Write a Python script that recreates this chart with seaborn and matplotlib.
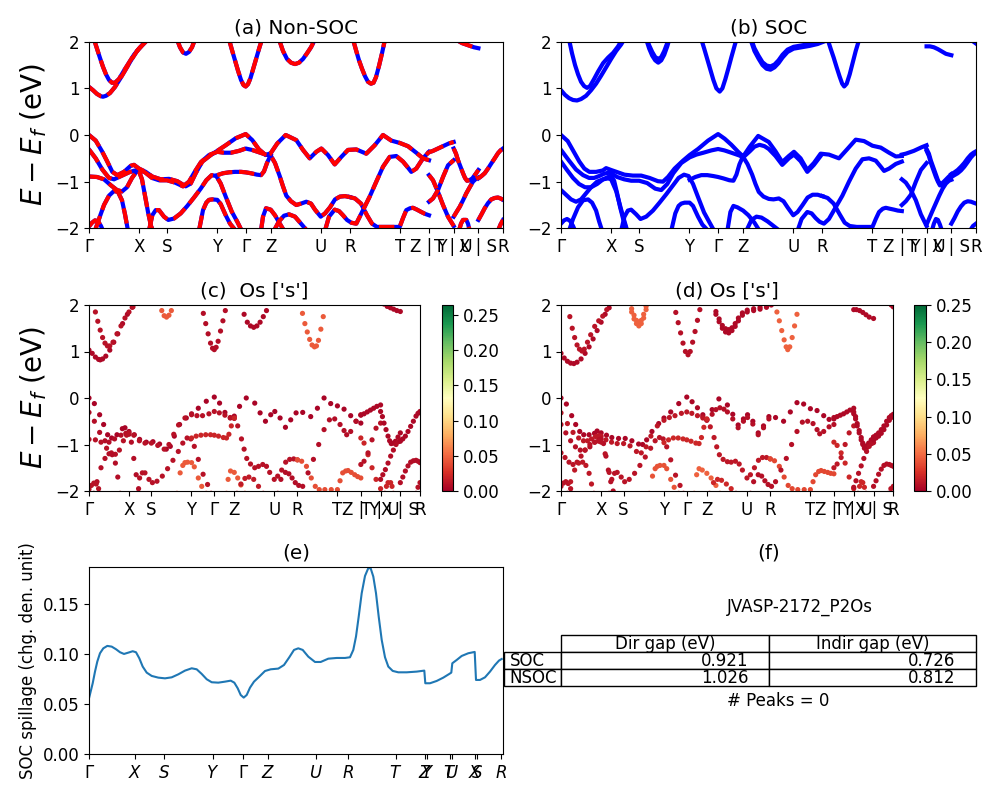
import matplotlib
matplotlib.use("Agg")
import matplotlib.pyplot as plt
import numpy as np
import pandas as pd
import seaborn as sns
from matplotlib.cm import ScalarMappable
from matplotlib.colors import Normalize
from matplotlib.table import Table

plt.rcParams["font.size"] = 12
plt.rcParams["font.family"] = ["DejaVu Sans"]

# ---------------- k-path ----------------
KPATH_TICKS = [0, 50, 78, 128, 156.7, 181.7, 231.7, 260.7, 310.7, 340, 364.7, 389.4, 414]
KPATH_LABELS = ["Γ", "X", "S", "Y", "Γ", "Z", "U", "R", "T", "Z | Y", "T | U", "X | S", "R"]

# ---------------- Non-SOC bands (k, E) ----------------
NC1_K = [0, 4, 8, 12, 14, 17, 21, 26, 31, 36, 42, 48, 54, 58]
NC1_E = [1.03, 0.96, 0.88, 0.83, 0.82, 0.84, 0.9, 1.03, 1.2, 1.38, 1.6, 1.8, 1.95, 2.05]
NC2_K = [5, 8, 11, 14, 17, 20, 23, 26, 30, 35, 40, 45, 50, 55, 59]
NC2_E = [2.05, 1.85, 1.65, 1.46, 1.3, 1.18, 1.12, 1.12, 1.2, 1.38, 1.55, 1.72, 1.85, 1.96, 2.05]
NC3_K = [88, 91, 94, 97, 100, 103, 106]
NC3_E = [2.05, 1.88, 1.77, 1.74, 1.78, 1.88, 2.05]
NC4_K = [140, 143, 146, 149, 152, 154.5, 156.7, 159, 161.5, 164.5, 167.5, 170.5, 173]
NC4_E = [2.05, 1.82, 1.6, 1.38, 1.18, 1.07, 1.04, 1.09, 1.22, 1.44, 1.66, 1.88, 2.05]
NC5_K = [190, 194, 198, 202, 206, 210, 214, 218, 222, 226]
NC5_E = [2.05, 1.8, 1.63, 1.55, 1.52, 1.55, 1.63, 1.75, 1.88, 2.05]
NC6_K = [264, 267, 270, 273, 276, 279, 282, 284.5, 287, 290, 293, 296]
NC6_E = [2.05, 1.82, 1.6, 1.42, 1.26, 1.14, 1.1, 1.12, 1.24, 1.48, 1.75, 2.05]
NC7_K = [369, 373, 377, 381, 385, 389.4]
NC7_E = [2.02, 1.97, 1.94, 1.91, 1.88, 1.86]

NV1_K = [0, 6.7, 13.3, 18.3, 23.3, 28.3, 35, 41.7, 45, 50, 56.7, 63.3, 71.7, 80, 88.3, 96.7,
         101.7, 106.7, 113.3, 121.7, 128.3, 136.7, 146.7, 156.7, 163.3, 170, 176.7, 181.7,
         188.3, 196.7, 207.3, 214, 220.7, 227.3, 232.4, 239, 245.7, 252.3, 259, 267.3, 277.3,
         285.7, 294, 302.3, 310.7, 319, 327.3, 334, 340]
NV1_E = [0.0, -0.12, -0.36, -0.57, -0.79, -0.86, -0.79, -0.66, -0.64, -0.72, -0.79, -0.89, -0.95,
         -0.94, -0.99, -1.1, -1.04, -0.82, -0.57, -0.43, -0.34, -0.22, -0.07, 0.02, -0.11, -0.31,
         -0.43, -0.39, -0.18, 0.0, -0.11, -0.32, -0.5, -0.36, -0.29, -0.43, -0.63, -0.47, -0.32,
         -0.31, -0.4, -0.22, 0.0, -0.12, -0.17, -0.24, -0.38, -0.5, -0.54]
NV2_K = [0, 6.7, 13.3, 20, 25, 32, 40, 46, 50, 53, 56, 59, 62, 65]
NV2_E = [-0.31, -0.5, -0.74, -0.92, -0.95, -0.88, -0.8, -0.76, -0.78, -0.95, -1.3, -1.65, -1.95, -2.1]
NV3A_K = [0, 8, 15, 22, 28, 33, 38, 43, 47, 50, 56, 63, 70, 78, 86, 94, 100, 106, 112, 120,
          128.3, 135, 142, 150, 156.7, 163, 170, 176.7, 181.7, 186, 190.7, 194, 197.3, 202,
          207.3, 212, 217.3, 222, 226, 231.7, 236, 241, 246, 251, 256, 260.7]
NV3A_E = [-0.89, -0.9, -0.95, -1.08, -1.18, -1.21, -1.12, -0.92, -0.8, -0.75, -0.8, -0.92, -0.97,
          -0.97, -1.02, -1.1, -1.0, -0.78, -0.58, -0.43, -0.36, -0.38, -0.38, -0.34, -0.29, -0.32,
          -0.37, -0.42, -0.44, -0.6, -0.88, -1.1, -1.3, -1.42, -1.5, -1.47, -1.43, -1.47, -1.6,
          -1.75, -1.68, -1.55, -1.38, -1.32, -1.31, -1.33]
NV3B_K = [260.7, 266, 272, 278, 283, 288, 295, 303, 310.7, 314, 317.3, 321, 324, 328, 332.3, 336, 340]
NV3B_E = [-1.33, -1.36, -1.47, -1.72, -1.9, -1.97, -1.97, -1.97, -1.97, -1.78, -1.61, -1.57,
          -1.56, -1.6, -1.65, -1.69, -1.72]
NV4_K = [6, 10, 15, 20, 25, 29, 33, 36, 39]
NV4_E = [-2.05, -1.8, -1.5, -1.3, -1.2, -1.22, -1.4, -1.7, -2.05]
NV5_K = [0, 3, 6, 9, 12, 14]
NV5_E = [-1.96, -1.88, -1.83, -1.85, -1.95, -2.05]
NV6_K = [60, 63.3, 66.7, 70, 75, 79.3, 85, 91.7, 98.3, 105, 111.7, 117.3, 122.7, 127.3, 131.7,
         136.7, 142.7, 148.3, 152.7]
NV6_E = [-2.05, -1.72, -1.61, -1.61, -1.75, -1.82, -1.79, -1.68, -1.52, -1.34, -1.15, -0.97,
         -0.86, -0.88, -1.04, -1.32, -1.64, -1.86, -2.05]
NV7_K = [110, 114, 117.3, 120, 123.3, 128.3, 131.7, 136.7, 141, 146.7]
NV7_E = [-2.05, -1.61, -1.45, -1.39, -1.38, -1.39, -1.48, -1.72, -1.9, -2.05]
NV8_K = [128.3, 134, 140, 146, 152, 156.7, 162, 168, 172, 175, 178, 181.7]
NV8_E = [-0.86, -0.82, -0.8, -0.79, -0.79, -0.8, -0.82, -0.85, -0.86, -0.78, -0.6, -0.43]
NV9_K = [172, 174, 177, 181.7, 186, 190, 195]
NV9_E = [-2.05, -1.75, -1.57, -1.6, -1.72, -1.87, -2.05]
NV10_K = [185, 190, 195, 200, 206, 212, 218]
NV10_E = [-2.05, -1.85, -1.73, -1.7, -1.75, -1.9, -2.05]
NV11_K = [236, 240, 245.7, 250, 254, 258, 262.3, 267.3, 274, 280.7, 287.3, 294, 300.7, 307.3,
          314, 319, 322.3, 327.3, 334, 340]
NV11_E = [-2.05, -1.75, -1.6, -1.63, -1.72, -1.82, -1.88, -1.9, -1.61, -1.32, -1.0, -0.68, -0.47,
          -0.45, -0.57, -0.7, -0.79, -0.72, -0.5, -0.36]

P2_K = [340, 344, 348, 352, 356, 360, 364.7]
P2S_K = [340, 344, 349, 354, 359, 364.7]
P3_K = [364.7, 367, 369, 371.5, 374, 376, 378, 380.5, 383.3, 386.5, 389.4]
P3B_K = [364.7, 367.5, 370.7, 374, 377.3, 380.7, 384, 387, 389.4]
P4_K = [389.4, 392.5, 395.7, 399, 402.3, 405.7, 409, 411.5, 414]

NP2A_E = [-0.37, -0.34, -0.3, -0.26, -0.22, -0.18, -0.15]
NP2B_E = [-0.86, -0.97, -1.22, -1.5, -1.75, -1.95]
NP2C_E = [-1.43, -1.36, -1.18, -0.9, -0.65, -0.54]
NP3A_E = [-0.29, -0.4, -0.54, -0.68, -0.82, -0.92, -0.98, -0.97, -0.93, -0.84, -0.75]
NP3B_E = [-1.75, -1.65, -1.54, -1.4, -1.25, -1.12, -1.0, -0.94, -0.91]
NP3C_K = [370, 372, 374, 377.3, 379, 380.7]
NP3C_E = [-2.05, -1.9, -1.82, -1.82, -1.9, -2.05]
NP4A_E = [-0.93, -0.88, -0.82, -0.72, -0.61, -0.5, -0.39, -0.33, -0.29]
NP4B_E = [-1.82, -1.7, -1.57, -1.46, -1.38, -1.35, -1.34, -1.36, -1.39]
NP4C_K = [409, 411.5, 414]
NP4C_E = [-2.05, -1.92, -1.82]

# ---------------- SOC bands (k, E) ----------------
SC1_K = [0, 4, 8, 12, 16, 20, 25, 30, 35, 40, 45, 50, 55, 60, 63]
SC1_E = [0.96, 0.86, 0.79, 0.75, 0.74, 0.77, 0.84, 0.96, 1.1, 1.27, 1.45, 1.63, 1.8, 1.94, 2.05]
SC2_K = [8, 11, 14, 17, 20, 23, 26, 29, 33, 37, 42, 47, 52, 57, 61]
SC2_E = [2.05, 1.75, 1.5, 1.3, 1.14, 1.05, 1.01, 1.05, 1.2, 1.36, 1.54, 1.66, 1.76, 1.9, 2.05]
SC3_K = [85, 88, 91, 94, 97, 100, 103, 106, 108]
SC3A_E = [2.05, 1.85, 1.7, 1.6, 1.55, 1.6, 1.72, 1.9, 2.05]
SC3B_E = [2.1, 1.92, 1.78, 1.67, 1.63, 1.67, 1.8, 1.97, 2.1]
SC4_K = [140, 143, 146, 149, 152, 155, 158.3, 161, 164, 167, 170, 173, 175]
SC4_E = [2.05, 1.84, 1.62, 1.4, 1.18, 1.0, 0.93, 1.0, 1.2, 1.43, 1.67, 1.9, 2.05]
SC5_K = [189, 193, 197, 201, 205, 209, 213, 217, 221, 226, 232, 240, 248, 256, 262]
SC5A_E = [2.05, 1.8, 1.64, 1.5, 1.42, 1.4, 1.45, 1.54, 1.66, 1.78, 1.85, 1.88, 1.91, 1.95, 2.0]
SC5B_E = [2.1, 1.86, 1.7, 1.56, 1.49, 1.47, 1.51, 1.6, 1.72, 1.83, 1.89, 1.92, 1.95, 1.99, 2.05]
SC6_K = [266, 269, 272, 275, 278, 280.5, 282.5, 285, 288, 291, 294, 297.5]
SC6_E = [2.05, 1.85, 1.66, 1.45, 1.25, 1.1, 1.04, 1.1, 1.3, 1.55, 1.8, 2.05]
SC7_K = [364.7, 368, 372, 376, 380, 384, 389.4]
SC7_E = [1.9, 1.9, 1.88, 1.84, 1.79, 1.74, 1.71]
SC8_K = [409, 411.5, 414]
SC8_E = [2.05, 2.0, 1.96]

SV1_E = [0.0, -0.13, -0.38, -0.57, -0.72, -0.79, -0.79, -0.76, -0.71, -0.75, -0.8, -0.85, -0.87,
         -0.87, -0.92, -0.99, -1.0, -0.9, -0.72, -0.55, -0.43, -0.3, -0.12, 0.02, -0.08, -0.21,
         -0.36, -0.46, -0.25, -0.02, -0.15, -0.35, -0.58, -0.45, -0.36, -0.5, -0.75, -0.6, -0.4,
         -0.42, -0.5, -0.3, -0.1, -0.13, -0.23, -0.27, -0.38, -0.46, -0.45]
SV1B_K = [176.7, 181.7, 188.3, 193, 198, 203, 207.3, 214, 220.7, 227.3, 232.4, 239, 245.7, 252.3, 259]
SV1B_E = [-0.4, -0.48, -0.35, -0.25, -0.21, -0.24, -0.3, -0.45, -0.64, -0.5, -0.42, -0.56, -0.79,
          -0.64, -0.45]
SV2_E = [-0.32, -0.55, -0.74, -0.86, -0.92, -0.92, -0.88, -0.83, -0.81, -0.82, -0.9, -0.95, -0.98,
         -0.98, -1.03, -1.15, -1.18, -1.05, -0.82, -0.6, -0.48, -0.42, -0.38, -0.33, -0.3, -0.33,
         -0.38, -0.43, -0.47, -0.62, -0.85, -1.05, -1.22, -1.32, -1.37, -1.38, -1.36, -1.42, -1.55,
         -1.72, -1.65, -1.5, -1.34, -1.28, -1.28, -1.31]
SV2B_E = [-1.31, -1.35, -1.47, -1.7, -1.88, -1.95, -1.97, -1.97, -1.97, -1.8, -1.65, -1.58, -1.56,
          -1.58, -1.6, -1.62, -1.63]
SV3_K = [0, 6, 12, 18, 24, 30, 36, 42, 47, 50, 53, 56, 59, 62, 65, 67]
SV3_E = [-0.57, -0.75, -0.92, -1.05, -1.12, -1.12, -1.05, -0.95, -0.9, -0.88, -0.98, -1.25, -1.55,
         -1.8, -2.0, -2.1]
SV4_K = [0, 5, 10, 15, 20, 25, 30, 36, 42, 47, 50, 55, 60, 66]
SV4_E = [-1.18, -1.28, -1.38, -1.43, -1.38, -1.25, -1.12, -1.0, -0.95, -0.93, -0.95, -1.2, -1.6, -2.05]
SV5_E = [-1.9, -1.83, -1.8, -1.84, -1.95, -2.05]
SV6_K = [8, 12, 17, 22, 27, 31, 35, 38, 41]
SV6_E = [-2.05, -1.8, -1.55, -1.4, -1.38, -1.45, -1.62, -1.85, -2.05]
SV7_E = [-2.05, -1.75, -1.62, -1.6, -1.7, -1.8, -1.75, -1.62, -1.45, -1.27, -1.08, -0.92, -0.85,
         -0.88, -1.05, -1.33, -1.66, -1.88, -2.05]
SV8_E = [-2.05, -1.68, -1.52, -1.47, -1.45, -1.45, -1.52, -1.75, -1.92, -2.05]
SV9_E = [-0.96, -0.9, -0.86, -0.86, -0.88, -0.9, -0.93, -0.97, -0.98, -0.85, -0.63, -0.45]
SV10_K = [166, 169, 172, 176, 181.7, 187, 193, 198]
SV10_E = [-2.05, -1.65, -1.52, -1.55, -1.62, -1.72, -1.88, -2.05]
SV11_E = [-2.05, -1.82, -1.75, -1.77, -1.85, -1.95, -2.05]
SV13_E = [-2.05, -1.8, -1.65, -1.68, -1.78, -1.86, -1.9, -1.8, -1.55, -1.3, -1.0, -0.72, -0.52,
          -0.5, -0.55, -0.68, -0.77, -0.72, -0.62, -0.57]
SP2A_E = [-0.42, -0.4, -0.37, -0.34, -0.3, -0.26, -0.22]
SP2B_E = [-0.95, -1.02, -1.18, -1.4, -1.7, -1.95]
SP2C_E = [-1.5, -1.42, -1.28, -1.0, -0.75, -0.6]
SP3A_E = [-0.3, -0.4, -0.55, -0.7, -0.85, -0.97, -1.05, -1.03, -0.97, -0.9, -0.84]
SP3A2_E = [-0.34, -0.45, -0.6, -0.75, -0.9, -1.0, -1.08, -1.08, -1.02, -0.94, -0.88]
SP3B_E = [-1.92, -1.78, -1.62, -1.46, -1.3, -1.15, -1.04, -0.98, -0.96]
SP3C_K = [370, 372, 374, 376, 378, 380]
SP3C_E = [-2.05, -1.9, -1.8, -1.82, -1.92, -2.05]
SP4A_E = [-0.84, -0.8, -0.75, -0.68, -0.6, -0.5, -0.42, -0.38, -0.35]
SP4A2_E = [-0.9, -0.86, -0.82, -0.76, -0.68, -0.58, -0.48, -0.42, -0.38]
SP4B_E = [-1.9, -1.78, -1.64, -1.53, -1.45, -1.42, -1.43, -1.45, -1.47]
SP4C_K = [408, 411, 414]
SP4C_E = [-2.05, -1.95, -1.9]

# Os 's' projection weight per band
NSOC_W = [0.005, 0.01, 0.045, 0.008, 0.005, 0.045, 0.005,
          0.003, 0.008, 0.01, 0.04, 0.008, 0.01, 0.01, 0.045, 0.02, 0.045, 0.015, 0.008,
          0.005, 0.02, 0.01, 0.005, 0.008, 0.02, 0.005, 0.008, 0.01]
SOC_W = [0.005, 0.01, 0.045, 0.045, 0.008, 0.005, 0.005, 0.045, 0.005, 0.005,
         0.003, 0.008, 0.012, 0.035, 0.008, 0.01, 0.01, 0.012, 0.01, 0.04, 0.02, 0.045, 0.02, 0.008,
         0.005, 0.02, 0.012, 0.005, 0.005, 0.008, 0.02, 0.005, 0.005, 0.008, 0.01]

# ---------------- spillage ----------------
SPILL_K = [0, 3.4, 5.7, 8.0, 10.7, 14.0, 18.0, 22.4, 26.7, 30.7, 34.7, 39.0, 43.4, 46.7, 50.0,
           53.4, 57.4, 62.4, 69.0, 75.7, 82.4, 89.0, 95.7, 102.4, 107.4, 112.4, 117.4, 122.4,
           129.0, 135.7, 141.4, 145.0, 148.4, 151.4, 154.4, 157.4, 160.7, 164.7, 170.0, 175.7,
           181.4, 189.0, 194.7, 200.0, 204.7, 209.0, 213.4, 219.0, 225.7, 231.4, 239.0, 247.4,
           255.7, 260.7, 264.0, 266.7, 269.4, 272.4, 275.7, 279.0, 281.4, 284.0, 286.7, 289.4,
           292.4, 295.7, 299.0, 303.4, 309.0, 317.4, 327.4, 335.0, 336.0, 340.7, 347.4, 354.0,
           360.0, 362.0, 363.0, 367.4, 372.4, 379.0, 385.4, 386.7, 390.7, 395.7, 400.7, 405.7,
           409.7, 412.4]
SPILL_VAL = [0.057, 0.0708, 0.0824, 0.0924, 0.1007, 0.1056, 0.108, 0.1073, 0.1047, 0.1017, 0.1,
             0.1013, 0.1027, 0.1017, 0.0957, 0.0874, 0.0814, 0.0781, 0.0764, 0.0757, 0.0767,
             0.0797, 0.0834, 0.0857, 0.0847, 0.0801, 0.0748, 0.0718, 0.0714, 0.0724, 0.0734,
             0.0714, 0.0658, 0.0591, 0.0565, 0.0591, 0.0664, 0.0724, 0.0774, 0.083, 0.0847,
             0.0854, 0.089, 0.0967, 0.104, 0.1056, 0.104, 0.0973, 0.092, 0.092, 0.0953, 0.096,
             0.096, 0.0967, 0.104, 0.1173, 0.1372, 0.1605, 0.1777, 0.1855, 0.1852, 0.1771,
             0.1605, 0.1372, 0.114, 0.0967, 0.0874, 0.0831, 0.0817, 0.0817, 0.0824, 0.0834,
             0.0708, 0.0708, 0.0731, 0.0764, 0.0801, 0.0814, 0.0907, 0.094, 0.098, 0.1007, 0.102,
             0.0741, 0.0741, 0.0767, 0.0824, 0.089, 0.0934, 0.095]
SPILL_TICKS = [0, 45.7, 75, 123.3, 154, 178.3, 226.7, 258.3, 306.3, 336, 338, 360.7, 362.7,
               386, 388, 411.7]
SPILL_LABELS = [r"$\Gamma$", r"$X$", r"$S$", r"$Y$", r"$\Gamma$", r"$Z$", r"$U$", r"$R$", r"$T$",
                r"$Z$", r"$Y$", r"$T$", r"$U$", r"$X$", r"$S$", r"$R$"]

# ---------------- gap table ----------------
GAP_COLS = ["Dir gap (eV)", "Indir gap (eV)"]
GAP_ROWS = ["SOC", "NSOC"]
GAP_DIR = [0.921, 1.026]
GAP_INDIR = [0.726, 0.812]
MATERIAL = "JVASP-2172_P2Os"
N_PEAKS = 0
CBAR_TICKS = [0.0, 0.05, 0.10, 0.15, 0.20, 0.25]

# ---------------- assemble ----------------
NSOC_BANDS = [
    (NC1_K, NC1_E), (NC2_K, NC2_E), (NC3_K, NC3_E), (NC4_K, NC4_E), (NC5_K, NC5_E),
    (NC6_K, NC6_E), (NC7_K, NC7_E),
    (NV1_K, NV1_E), (NV2_K, NV2_E), (NV3A_K, NV3A_E), (NV3B_K, NV3B_E), (NV4_K, NV4_E),
    (NV5_K, NV5_E), (NV6_K, NV6_E), (NV7_K, NV7_E), (NV8_K, NV8_E), (NV9_K, NV9_E),
    (NV10_K, NV10_E), (NV11_K, NV11_E),
    (P2_K, NP2A_E), (P2S_K, NP2B_E), (P2S_K, NP2C_E),
    (P3_K, NP3A_E), (P3B_K, NP3B_E), (NP3C_K, NP3C_E),
    (P4_K, NP4A_E), (P4_K, NP4B_E), (NP4C_K, NP4C_E),
]
SOC_BANDS = [
    (SC1_K, SC1_E), (SC2_K, SC2_E), (SC3_K, SC3A_E), (SC3_K, SC3B_E), (SC4_K, SC4_E),
    (SC5_K, SC5A_E), (SC5_K, SC5B_E), (SC6_K, SC6_E), (SC7_K, SC7_E), (SC8_K, SC8_E),
    (NV1_K, SV1_E), (SV1B_K, SV1B_E), (NV3A_K, SV2_E), (NV3B_K, SV2B_E), (SV3_K, SV3_E),
    (SV4_K, SV4_E), (NV5_K, SV5_E), (SV6_K, SV6_E), (NV6_K, SV7_E), (NV7_K, SV8_E),
    (NV8_K, SV9_E), (SV10_K, SV10_E), (NV10_K, SV11_E), (NV11_K, SV13_E),
    (P2_K, SP2A_E), (P2S_K, SP2B_E), (P2S_K, SP2C_E),
    (P3_K, SP3A_E), (P3_K, SP3A2_E), (P3B_K, SP3B_E), (SP3C_K, SP3C_E),
    (P4_K, SP4A_E), (P4_K, SP4A2_E), (P4_K, SP4B_E), (SP4C_K, SP4C_E),
]


def band_frame(bands, weights):
    rows = []
    for i, ((ks, es), w) in enumerate(zip(bands, weights)):
        assert len(ks) == len(es), (i, len(ks), len(es))
        for kk, ee in zip(ks, es):
            rows.append((i, kk, ee, w))
    return pd.DataFrame(rows, columns=["band", "k", "E", "w"])


df_ns = band_frame(NSOC_BANDS, NSOC_W)
df_so = band_frame(SOC_BANDS, SOC_W)

fig = plt.figure(figsize=(10, 8), dpi=100)
ax_a = fig.add_axes([0.089, 0.7146, 0.414, 0.2333])
ax_b = fig.add_axes([0.561, 0.7146, 0.415, 0.2333])
ax_c = fig.add_axes([0.089, 0.38625, 0.331, 0.2325])
cax_c = fig.add_axes([0.4417, 0.38625, 0.0116, 0.2325])
ax_d = fig.add_axes([0.561, 0.38625, 0.3323, 0.2325])
cax_d = fig.add_axes([0.9143, 0.38625, 0.0114, 0.2325])
ax_e = fig.add_axes([0.0893, 0.0571, 0.4134, 0.23375])
ax_f = fig.add_axes([0.561, 0.0571, 0.415, 0.23375])


def style_band_axes(ax, title, ylabel):
    ax.set_xlim(KPATH_TICKS[0], KPATH_TICKS[-1])
    ax.set_ylim(-2, 2)
    ax.set_xticks(KPATH_TICKS)
    ax.set_xticklabels(KPATH_LABELS)
    ax.set_yticks([-2, -1, 0, 1, 2])
    ax.set_xlabel("")
    ax.set_ylabel(r"$E - E_f$ (eV)" if ylabel else "", fontsize=20)
    ax.set_title(title, fontsize=14.4)


# (a) non-SOC
sns.lineplot(data=df_ns, x="k", y="E", units="band", estimator=None, sort=False,
             color="blue", linewidth=3, ax=ax_a, legend=False)
sns.lineplot(data=df_ns, x="k", y="E", units="band", estimator=None, sort=False,
             color="red", linewidth=3, linestyle="--", ax=ax_a, legend=False)
style_band_axes(ax_a, "(a) Non-SOC", True)

# (b) SOC
sns.lineplot(data=df_so, x="k", y="E", units="band", estimator=None, sort=False,
             color="blue", linewidth=3, ax=ax_b, legend=False)
style_band_axes(ax_b, "(b) SOC", False)

# (c), (d) projected
VMAX_C = 0.264
VMAX_D = 0.25
sns.scatterplot(data=df_ns, x="k", y="E", hue="w", palette="RdYlGn", hue_norm=(0, VMAX_C),
                s=14, linewidth=0, legend=False, ax=ax_c)
style_band_axes(ax_c, "(c)  Os ['s']", True)
cb_c = fig.colorbar(ScalarMappable(norm=Normalize(0, VMAX_C), cmap="RdYlGn"), cax=cax_c)
cb_c.set_ticks(CBAR_TICKS)
cb_c.set_ticklabels([f"{t:.2f}" for t in CBAR_TICKS])

sns.scatterplot(data=df_so, x="k", y="E", hue="w", palette="RdYlGn", hue_norm=(0, VMAX_D),
                s=14, linewidth=0, legend=False, ax=ax_d)
style_band_axes(ax_d, "(d) Os ['s']", False)
cb_d = fig.colorbar(ScalarMappable(norm=Normalize(0, VMAX_D), cmap="RdYlGn"), cax=cax_d)
cb_d.set_ticks(CBAR_TICKS)
cb_d.set_ticklabels([f"{t:.2f}" for t in CBAR_TICKS])

# (e) spillage
sns.lineplot(x=SPILL_K, y=SPILL_VAL, estimator=None, sort=False, ax=ax_e, linewidth=1.5)
ax_e.set_xlim(0, SPILL_K[-1] + 1)
ax_e.set_ylim(0, max(SPILL_VAL) + 0.0008)
ax_e.set_xticks(SPILL_TICKS)
ax_e.set_xticklabels(SPILL_LABELS)
ax_e.set_yticks([0.0, 0.05, 0.10, 0.15])
ax_e.set_ylabel("SOC spillage (chg. den. unit)", fontsize=12)
ax_e.set_title("(e)", fontsize=14.4)

# (f) table
ax_f.axis("off")
ax_f.set_title("(f)", fontsize=14.4)
tab = Table(ax_f, bbox=[-0.1373, 0.3636, 1.1373, 0.2727])
widths = [0.1208, 0.4407, 0.4386]
for c, name in enumerate(GAP_COLS):
    tab.add_cell(0, c + 1, width=widths[c + 1], height=1 / 3, text=name, loc="center")
for r, name in enumerate(GAP_ROWS):
    tab.add_cell(r + 1, 0, width=widths[0], height=1 / 3, text=name, loc="left")
    tab.add_cell(r + 1, 1, width=widths[1], height=1 / 3, text=f"{GAP_DIR[r]:.3f}", loc="right")
    tab.add_cell(r + 1, 2, width=widths[2], height=1 / 3, text=f"{GAP_INDIR[r]:.3f}", loc="right")
tab.auto_set_font_size(False)
tab.set_fontsize(12)
ax_f.add_table(tab)
ax_f.text(0.576, 0.786, MATERIAL, transform=ax_f.transAxes, ha="center", va="center", fontsize=12)
ax_f.text(0.523, 0.283, f"# Peaks = {N_PEAKS}", transform=ax_f.transAxes, ha="center",
          va="center", fontsize=12)

fig.savefig("out.png", dpi=100)
